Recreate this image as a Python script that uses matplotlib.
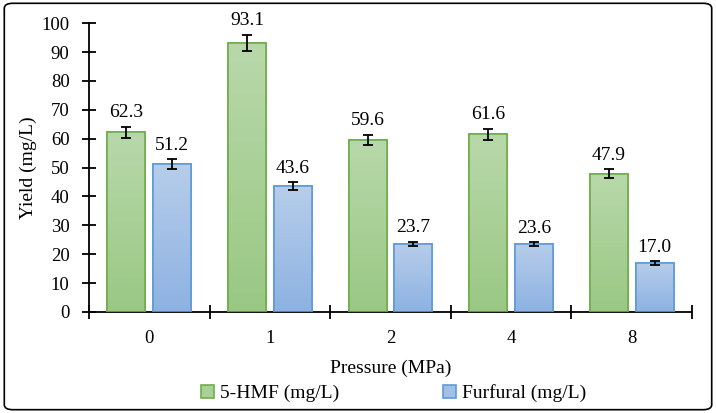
import matplotlib.pyplot as plt
import numpy as np
from matplotlib.patches import FancyBboxPatch
from matplotlib.colors import LinearSegmentedColormap

pressure = ["0", "1", "2", "4", "8"]
hmf = [62.3, 93.1, 59.6, 61.6, 47.9]
hmf_err = [1.9, 2.9, 1.8, 1.9, 1.5]
furfural = [51.2, 43.6, 23.7, 23.6, 17.0]
furfural_err = [1.6, 1.3, 0.7, 0.7, 0.6]

plt.rcParams['font.family'] = ['Liberation Serif', 'DejaVu Serif']
plt.rcParams['font.size'] = 13.5

fig = plt.figure(figsize=(7.16, 4.13), dpi=100)
ax = fig.add_axes([0.1243, 0.2446, 0.8422, 0.6994])

x = np.arange(len(pressure))
w = 0.315
off = 0.19

green_cmap = LinearSegmentedColormap.from_list("g", ["#9ac884", "#b8d8aa"])
blue_cmap = LinearSegmentedColormap.from_list("b", ["#8db2e2", "#b7cdea"])


def grad_bars(xs, vals, cmap, edge, label):
    bars = ax.bar(xs, vals, w, color=cmap(0.5), edgecolor=edge, linewidth=1.2,
                  label=label, zorder=2)
    for b in bars:
        bx, by = b.get_x(), b.get_y()
        bw, bh = b.get_width(), b.get_height()
        grad = np.linspace(0, 1, 100).reshape(-1, 1)
        im = ax.imshow(grad, cmap=cmap, origin="lower", aspect="auto",
                       extent=[bx, bx + bw, by, by + bh], zorder=2.5)
        im.set_clip_path(b)
        # redraw edge on top
        ax.bar(bx + bw / 2, bh, bw, fill=False, edgecolor=edge, linewidth=1.2,
               zorder=3)
    return bars


grad_bars(x - off, hmf, green_cmap, "#71ad4a", "5-HMF (mg/L)")
grad_bars(x + off, furfural, blue_cmap, "#5e9bd6", "Furfural (mg/L)")

ax.errorbar(x - off, hmf, yerr=hmf_err, fmt="none", ecolor="black",
            elinewidth=1.3, capsize=3.5, capthick=1.3, zorder=4)
ax.errorbar(x + off, furfural, yerr=furfural_err, fmt="none", ecolor="black",
            elinewidth=1.3, capsize=3.5, capthick=1.3, zorder=4)

for xi, v, e in zip(x - off, hmf, hmf_err):
    ax.text(xi, v + e + 1.8, f"{v:.1f}", ha="center", va="bottom", fontsize=14)
for xi, v, e in zip(x + off, furfural, furfural_err):
    ax.text(xi, v + e + 1.8, f"{v:.1f}", ha="center", va="bottom", fontsize=14)

ax.set_xlim(-0.5, len(pressure) - 0.5)
ax.set_ylim(0, 100)
ax.set_yticks(range(0, 101, 10))
ax.set_xticks(x)
ax.set_xticklabels(pressure)
ax.set_xticks(np.arange(-0.5, len(pressure), 1), minor=True)
ax.tick_params(axis="x", which="major", length=0, pad=13)
ax.tick_params(axis="x", which="minor", direction="inout", length=10, width=1.3)
ax.tick_params(axis="y", direction="inout", length=10, width=1.3, pad=9)
for s in ["top", "right"]:
    ax.spines[s].set_visible(False)
for s in ["left", "bottom"]:
    ax.spines[s].set_linewidth(1.3)

ax.set_ylabel("Yield (mg/L)", labelpad=3, fontsize=14)
ax.set_xlabel("Pressure (MPa)", labelpad=9, fontsize=14)

ax.legend(loc="upper center", bbox_to_anchor=(0.505, -0.19), ncol=2,
          frameon=False, handlelength=0.7, handleheight=0.7, handletextpad=0.3,
          columnspacing=5.3, fontsize=14)

border = FancyBboxPatch((0.006, 0.008), 0.988, 0.984,
                        boxstyle="round,pad=0,rounding_size=0.012",
                        transform=fig.transFigure, fill=False,
                        edgecolor="black", linewidth=1.2)
fig.patches.append(border)

fig.savefig("out.png", dpi=100)
